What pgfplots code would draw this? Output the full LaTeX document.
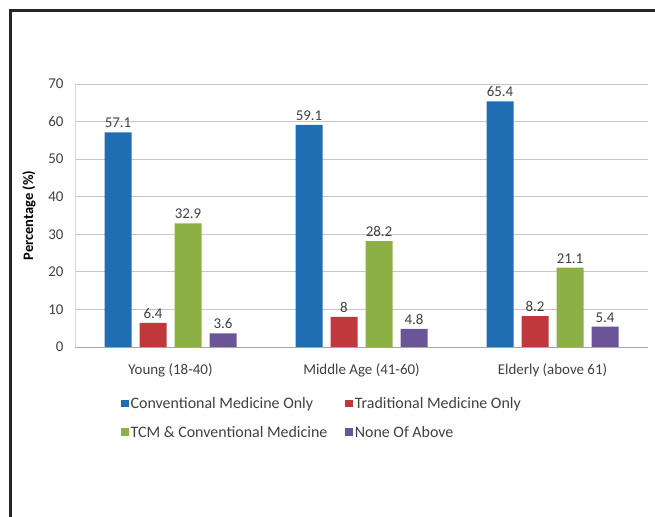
\documentclass[border=0pt]{standalone}
\usepackage{pgfplots}
\pgfplotsset{compat=1.18}
\usepackage{fontspec}
\setmainfont{Carlito}
\definecolor{cblue}{HTML}{1F6EB3}
\definecolor{cred}{HTML}{C0383C}
\definecolor{cgreen}{HTML}{8CB043}
\definecolor{cpurple}{HTML}{6C5499}
\definecolor{txt}{HTML}{404040}
\begin{document}
\begin{tikzpicture}[x=1bp,y=1bp]
\path[use as bounding box] (0,0) rectangle (655,517);
\draw[line width=3bp, color=black!85] (10,0) -- (10,506) -- (655,506);
\begin{axis}[
  at={(75bp,170bp)}, anchor=south west,
  scale only axis, width=573bp, height=263bp,
  xmin=-0.5, xmax=2.5, ymin=0, ymax=70,
  ybar=8bp, bar width=27bp,
  /pgf/number format/assume math mode=true,
  xtick={0,1,2},
  xticklabels={Young (18-40), Middle Age (41-60), Elderly (above 61)},
  ytick={0,10,...,70},
  ymajorgrids, grid style={gray!45, line width=0.8bp},
  axis x line*=bottom, axis y line*=left,
  x axis line style={gray!70, line width=0.8bp, -},
  y axis line style={gray!30, line width=0.8bp, -},
  major tick length=0pt,
  tick label style={font=\fontsize{15}{17}\selectfont, color=txt},
  yticklabel style={xshift=-8bp},
  xticklabel style={yshift=-13bp},
  ylabel={\fontsize{14.5}{16}\selectfont\bfseries Percentage (\%)},
  every axis y label/.style={at={(axis description cs:0,0.5)}, rotate=90, anchor=south, yshift=36bp, color=black},
  nodes near coords,
  every node near coord/.append style={font=\fontsize{15}{17}\selectfont, color=txt, yshift=1bp},
  legend columns=2,
  legend cell align=left,
  legend style={draw=none, fill=none, at={(axis description cs:0.075,-0.176)}, anchor=north west,
    font=\fontsize{16}{19}\selectfont, text=txt,
    /tikz/every even column/.append style={column sep=16bp},
    row sep=12bp},
  legend image code/.code={\fill[#1] (0bp,-3.5bp) rectangle (7.5bp,4bp);},
]
\addplot[fill=cblue, draw=none] coordinates {(0,57.1) (1,59.1) (2,65.4)};
\addplot[fill=cred, draw=none] coordinates {(0,6.4) (1,8) (2,8.2)};
\addplot[fill=cgreen, draw=none] coordinates {(0,32.9) (1,28.2) (2,21.1)};
\addplot[fill=cpurple, draw=none] coordinates {(0,3.6) (1,4.8) (2,5.4)};
\legend{Conventional Medicine Only, Traditional Medicine Only, TCM \& Conventional Medicine, None Of Above}
\end{axis}
\end{tikzpicture}
\end{document}
